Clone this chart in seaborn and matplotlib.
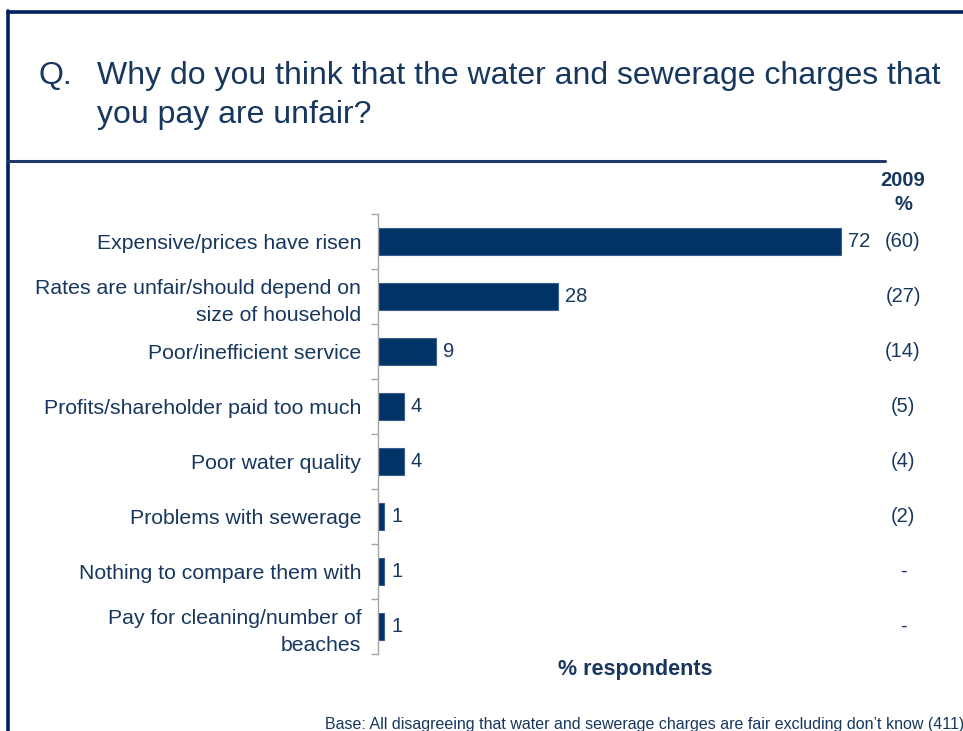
import matplotlib
matplotlib.use("Agg")
import matplotlib.pyplot as plt
from matplotlib.lines import Line2D
from matplotlib.ticker import FixedLocator
from matplotlib.transforms import blended_transform_factory
import seaborn as sns
import pandas as pd

# Survey answers, share of respondents (%) and the 2009 comparison figures
reasons = [
    "Expensive/prices have risen",
    "Rates are unfair/should depend on\nsize of household",
    "Poor/inefficient service",
    "Profits/shareholder paid too much",
    "Poor water quality",
    "Problems with sewerage",
    "Nothing to compare them with",
    "Pay for cleaning/number of\nbeaches",
]
share_now = [72, 28, 9, 4, 4, 1, 1, 1]
share_2009 = ["(60)", "(27)", "(14)", "(5)", "(4)", "(2)", "-", "-"]

title_q = "Q."
title_lines = ["Why do you think that the water and sewerage charges that",
               "you pay are unfair?"]
x_label = "% respondents"
base_note = ("Base: All disagreeing that water and sewerage charges are fair "
             "excluding don\u2019t know (411)")

NAVY = "#002060"
BAR = "#003366"
TEXT = "#17375E"

sns.set_theme(style="white")
plt.rcParams["font.family"] = ["Liberation Sans", "DejaVu Sans"]

W, H = 963, 731
fig = plt.figure(figsize=(W / 100, H / 100), dpi=100)


def fx(px):
    return px / W


def fy(py):
    return 1 - py / H


# Frame lines
fig.add_artist(Line2D([fx(8), fx(963)], [fy(12), fy(12)], color=NAVY, lw=2.6))
fig.add_artist(Line2D([fx(8), fx(8)], [fy(11), fy(731)], color=NAVY, lw=2.6))
fig.add_artist(Line2D([fx(8), fx(885)], [fy(161), fy(161)], color="#1F3B6B", lw=2.2))

# Title
TSIZE = 23
fig.text(fx(38), fy(84), title_q, fontsize=TSIZE, color=TEXT, va="baseline", ha="left")
fig.text(fx(97), fy(84), title_lines[0], fontsize=TSIZE, color=TEXT, va="baseline", ha="left")
fig.text(fx(97), fy(123), title_lines[1], fontsize=TSIZE, color=TEXT, va="baseline", ha="left")

# Bar chart area
ax_left, ax_right, ax_top, ax_bottom = 378, 956, 214, 654
ax = fig.add_axes([fx(ax_left), fy(ax_bottom), fx(ax_right - ax_left),
                   (ax_bottom - ax_top) / H])

df = pd.DataFrame({"reason": reasons, "share": share_now})
sns.barplot(data=df, y="reason", x="share", orient="h", color=BAR,
            saturation=1, width=0.49, edgecolor="#3A5F8F", linewidth=0.8, ax=ax)

per_px = 72 / (841 - ax_left)
ax.set_xlim(0, (ax_right - ax_left) * per_px)
ax.set_ylim(len(reasons) - 0.5, -0.5)

ax.bar_label(ax.containers[0], labels=[str(v) for v in share_now],
             padding=5, fontsize=14.5, color=TEXT)

col_tr = blended_transform_factory(fig.transFigure, ax.transData)
for i, v in enumerate(share_2009):
    ax.text(fx(903), i, v, transform=col_tr, ha="center", va="center",
            fontsize=14.5, color=TEXT)

ax.set_xlabel("")
ax.set_ylabel("")
ax.set_xticks([])
for side in ["top", "right", "bottom"]:
    ax.spines[side].set_visible(False)
ax.spines["left"].set_color("#A6A6A6")
ax.spines["left"].set_linewidth(1.0)

ax.tick_params(axis="y", which="major", length=0, pad=12, labelsize=15.3,
               labelcolor=TEXT)
ax.yaxis.set_minor_locator(FixedLocator([i - 0.5 for i in range(len(reasons) + 1)]))
ax.tick_params(axis="y", which="minor", left=True, length=5, width=1.0,
               color="#A6A6A6")
for lab in ax.get_yticklabels():
    lab.set_linespacing(1.5)

# Column header for the comparison year
fig.text(fx(903), fy(181), "2009", fontsize=14.5, fontweight="bold", color=TEXT,
         ha="center", va="center")
fig.text(fx(903), fy(205), "%", fontsize=14.5, fontweight="bold", color=TEXT,
         ha="center", va="center")

fig.text(fx(635), fy(670), x_label, fontsize=15.5, fontweight="bold", color=TEXT,
         ha="center", va="center")
fig.text(fx(325), fy(724), base_note, fontsize=11.5, color=TEXT,
         ha="left", va="center")

fig.savefig("out.png", dpi=100)
